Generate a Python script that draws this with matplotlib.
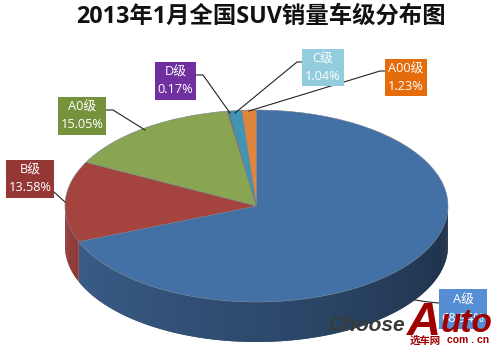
import numpy as np
import matplotlib
matplotlib.use("Agg")
import matplotlib.pyplot as plt
from matplotlib.collections import PolyCollection
from matplotlib.colors import to_rgb
from matplotlib.patches import Rectangle

FONTS = ['Open Sans', 'Noto Sans CJK SC', 'DejaVu Sans']
plt.rcParams['font.family'] = FONTS

title = '2013年1月全国SUV销量车级分布图'
categories = ['A级', 'B级', 'A0级', 'D级', 'C级', 'A00级']
values = [68.94, 13.58, 15.05, 0.17, 1.04, 1.23]
pct_labels = ['68.94%', '13.58%', '15.05%', '0.17%', '1.04%', '1.23%']
top_colors = ['#4371A6', '#A5433F', '#8AA552', '#5B7288', '#3F95B2', '#E0853D']
side_light = ['#3C618E', '#8F3A37', '#76903F', '#4A6070', '#347F98', '#C0702F']
side_dark = ['#1A2B40', '#8F3A37', '#76903F', '#4A6070', '#347F98', '#C0702F']
box_colors = ['#558ED5', '#953735', '#76923C', '#7030A0', '#93CDDD', '#E46C0A']
box_rects = [(439, 289, 48, 40), (6, 160, 48, 38), (58, 97, 48, 38),
             (155, 62, 41, 38), (302, 49, 42, 37), (385, 59, 42, 37)]
leaders = [[(415, 300), (428, 302), (439, 303)],
           [(54, 192), (65, 202)],
           [(106, 110), (113, 110), (145, 130)],
           [(196, 75), (203, 75), (230, 113)],
           [(302, 62), (297, 62), (235, 113)],
           [(385, 71), (380, 71), (249, 111)]]

W, H = 497, 352
CX, CY, RX, RY, DEPTH = 256.5, 206.0, 191.5, 96.0, 40.0

fig = plt.figure(figsize=(W / 100, H / 100), dpi=100, facecolor='white')
ax = fig.add_axes([0, 0, 1, 1])
ax.pie(values, startangle=90, counterclock=False, colors=top_colors, radius=1.0,
       wedgeprops=dict(linewidth=0.4, edgecolor='#6f7f90'), frame=True)
ax.set_aspect('auto')
ax.set_xlim(-CX / RX, (W - CX) / RX)
ax.set_ylim((CY - H) / RY, CY / RY)
ax.axis('off')

# extruded side, from the same slice fractions
depth = DEPTH / RY
edges = np.cumsum([0] + values) / np.sum(values) * 2 * np.pi
quads, cols = [], []
for i in range(len(values)):
    a0, a1 = edges[i], edges[i + 1]
    lo, hi = max(a0, np.pi / 2), min(a1, 3 * np.pi / 2)
    if hi <= lo:
        continue
    ts = np.linspace(lo, hi, max(int((hi - lo) * 90), 3))
    c0, c1 = np.array(to_rgb(side_dark[i])), np.array(to_rgb(side_light[i]))
    for j in range(len(ts) - 1):
        t0 = ts[j]
        t1 = ts[min(j + 2, len(ts) - 1)]
        tm = (ts[j] + ts[j + 1]) / 2
        f = np.clip((tm - np.pi / 2) / np.pi, 0, 1) ** 0.8
        x0, y0, x1, y1 = np.sin(t0), np.cos(t0), np.sin(t1), np.cos(t1)
        quads.append([(x0, y0), (x1, y1), (x1, y1 - depth), (x0, y0 - depth)])
        cols.append(c0 + (c1 - c0) * f)
ax.add_collection(PolyCollection(quads, facecolors=cols, edgecolors='none',
                                 linewidths=0, zorder=0.5))

# overlay in image pixels for title, callouts and watermark
ov = fig.add_axes([0, 0, 1, 1], facecolor='none')
ov.set_xlim(0, W)
ov.set_ylim(H, 0)
ov.axis('off')

ov.text(261, 17, title, ha='center', va='center', fontsize=16.8, fontweight='bold',
        color='#111111')

for cat, pct, col, (x, y, w, h), pts in zip(categories, pct_labels, box_colors, box_rects, leaders):
    xs, ys = zip(*pts)
    ov.plot(xs, ys, color='#222222', lw=0.8, zorder=3)
    ov.add_patch(Rectangle((x, y), w, h, facecolor=col, edgecolor='none', zorder=4))
    ov.text(x + w / 2, y + h * 0.27, cat, ha='center', va='center', color='white',
            fontsize=9.2, zorder=5)
    ov.text(x + w / 2, y + h * 0.73, pct, ha='center', va='center', color='white',
            fontsize=9.2, zorder=5)

# watermark
WM = ['Liberation Sans']
ov.text(329, 331, 'Choose', ha='left', va='baseline', fontsize=15, fontweight='bold',
        style='italic', color='#3a3a3a', zorder=6, family=WM)
ov.text(407, 335, 'A', ha='left', va='baseline', fontsize=34, fontweight='bold',
        style='italic', color='#A00000', zorder=6, family=WM)
ov.text(441, 332, 'uto', ha='left', va='baseline', fontsize=24, fontweight='bold',
        style='italic', color='#A00000', zorder=6, family=WM)
ov.text(410, 341, '选车网', ha='left', va='center', fontsize=7.5, fontweight='bold',
        color='#A00000', zorder=7)
ov.text(447, 340, 'com . cn', ha='left', va='center', fontsize=7.5, fontweight='bold',
        color='#A00000', zorder=7, family=WM)

fig.savefig('out.png', dpi=100, facecolor='white')
